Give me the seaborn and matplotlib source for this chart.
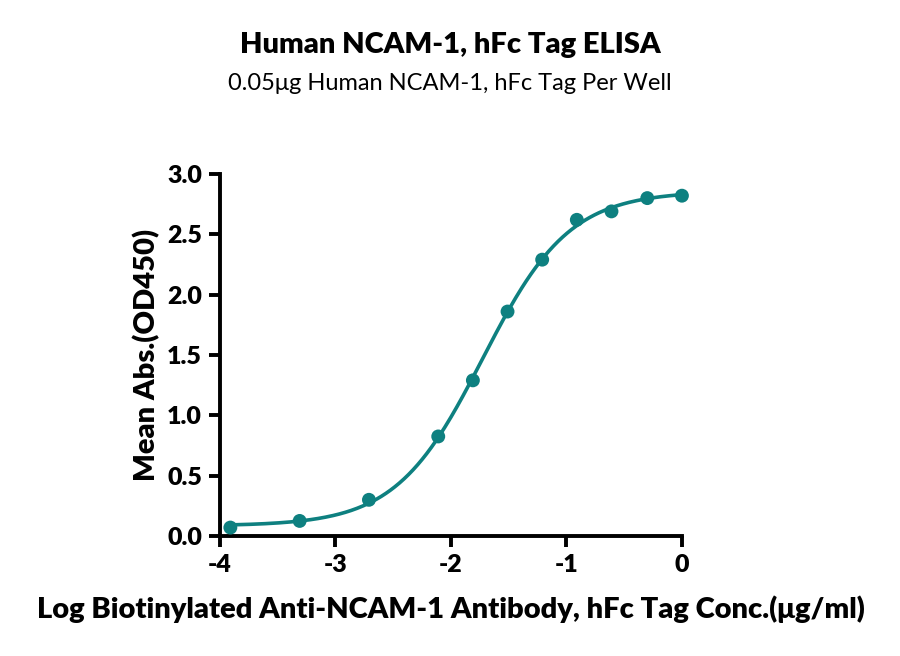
import numpy as np
import pandas as pd
import seaborn as sns
import matplotlib.pyplot as plt

log_conc = [-3.91, -3.31, -2.71, -2.11, -1.81, -1.51, -1.21, -0.91, -0.61, -0.30, 0.0]
mean_abs = [0.07, 0.125, 0.30, 0.825, 1.29, 1.86, 2.29, 2.62, 2.69, 2.80, 2.82]

title = 'Human NCAM-1, hFc Tag ELISA'
subtitle = '0.05\u03bcg Human NCAM-1, hFc Tag Per Well'
xlabel = 'Log Biotinylated Anti-NCAM-1 Antibody, hFc Tag Conc.(\u03bcg/ml)'
ylabel = 'Mean Abs.(OD450)'
teal = '#0e8080'


def four_pl(x, p):
    bottom, top, logec50, hill = p
    return bottom + (top - bottom) / (1 + 10 ** ((logec50 - x) * hill))


# small Gauss-Newton fit of a 4PL curve to the points
x = np.array(log_conc)
y = np.array(mean_abs)
p = np.array([0.05, 2.85, -1.8, 1.0])
for _ in range(200):
    r = y - four_pl(x, p)
    J = np.zeros((len(x), 4))
    for k in range(4):
        dp = np.zeros(4)
        dp[k] = 1e-6
        J[:, k] = (four_pl(x, p + dp) - four_pl(x, p)) / 1e-6
    step = np.linalg.lstsq(J, r, rcond=None)[0]
    p = p + 0.5 * step

xs = np.linspace(x.min(), x.max(), 300)
curve = pd.DataFrame({'x': xs, 'y': four_pl(xs, p)})
pts = pd.DataFrame({'x': log_conc, 'y': mean_abs})

sns.set_style('ticks')
plt.rcParams['font.family'] = ['Lato', 'DejaVu Sans']
plt.rcParams['text.color'] = 'black'

fig = plt.figure(figsize=(9, 6.56), dpi=100)
ax = fig.add_axes([0.2444, 0.1829, 0.5133, 0.5519])

sns.lineplot(data=curve, x='x', y='y', color=teal, linewidth=2.6, ax=ax)
sns.scatterplot(data=pts, x='x', y='y', color=teal, s=100, edgecolor='none',
                zorder=3, clip_on=False, ax=ax)

ax.set_xlim(-4, 0)
ax.set_ylim(0, 3.0)
ax.set_xticks([-4, -3, -2, -1, 0])
ax.set_xticklabels(['-4', '-3', '-2', '-1', '0'])
ax.set_yticks([0, 0.5, 1.0, 1.5, 2.0, 2.5, 3.0])
ax.set_yticklabels(['0.0', '0.5', '1.0', '1.5', '2.0', '2.5', '3.0'])

sns.despine(ax=ax)
for s in ['left', 'bottom']:
    ax.spines[s].set_linewidth(2.8)
    ax.spines[s].set_color('black')
ax.tick_params(width=2.8, length=8, labelsize=18, pad=5, colors='black')
for lab in ax.get_xticklabels() + ax.get_yticklabels():
    lab.set_fontweight('heavy')

ax.set_xlabel(xlabel, fontsize=21, fontweight='heavy', labelpad=14, color='black')
ax.set_ylabel(ylabel, fontsize=21, fontweight='heavy', labelpad=5, color='black')

fig.text(0.5, 0.931, title, ha='center', va='center', fontsize=21, fontweight='heavy')
fig.text(0.5, 0.873, subtitle, ha='center', va='center', fontsize=17)

fig.savefig('out.png', dpi=100, facecolor='white')
